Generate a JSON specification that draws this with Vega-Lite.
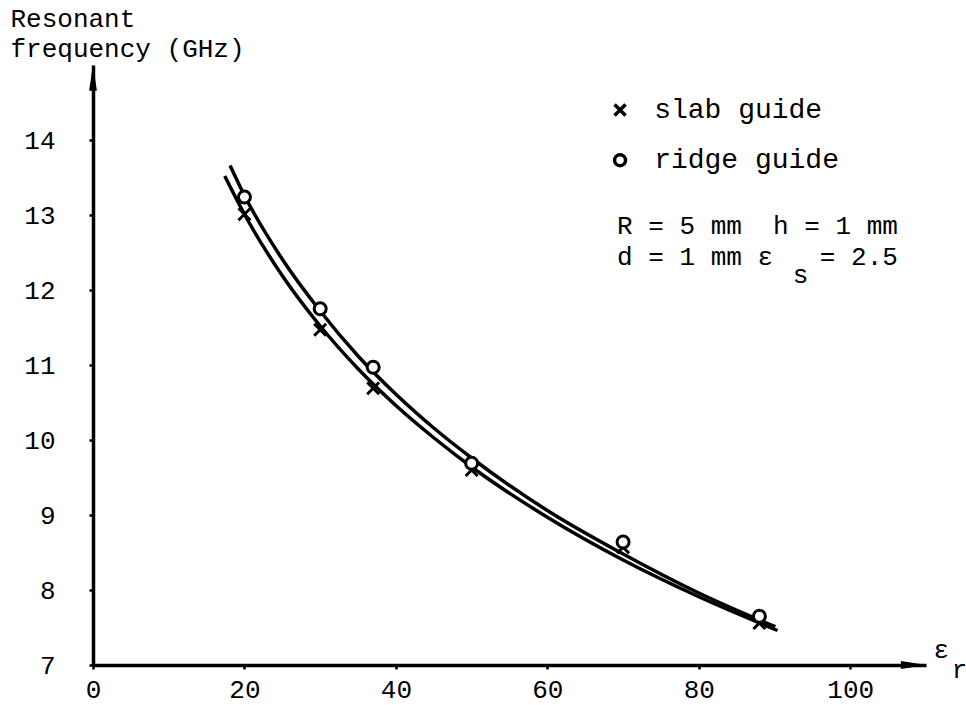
{
  "$schema": "https://vega.github.io/schema/vega-lite/v6.json",
  "width": 833,
  "height": 600,
  "autosize": {"type": "none"},
  "padding": {"left": 93, "top": 65, "right": 40, "bottom": 40},
  "background": "white",
  "config": {
    "view": {"stroke": null},
    "font": "Liberation Mono",
    "axis": {
      "grid": false,
      "domainColor": "black",
      "domainWidth": 3.5,
      "tickColor": "black",
      "tickWidth": 2.5,
      "tickSize": 4,
      "labelFont": "Liberation Mono",
      "labelFontSize": 26,
      "labelColor": "black"
    }
  },
  "datasets": {
    "curves": [
      {"curve": "ridge", "eps": 18.1, "f": 13.66},
      {"curve": "ridge", "eps": 20, "f": 13.26},
      {"curve": "ridge", "eps": 25, "f": 12.41},
      {"curve": "ridge", "eps": 30, "f": 11.72},
      {"curve": "ridge", "eps": 35, "f": 11.12},
      {"curve": "ridge", "eps": 40, "f": 10.61},
      {"curve": "ridge", "eps": 45, "f": 10.16},
      {"curve": "ridge", "eps": 50, "f": 9.76},
      {"curve": "ridge", "eps": 60, "f": 9.06},
      {"curve": "ridge", "eps": 70, "f": 8.48},
      {"curve": "ridge", "eps": 80, "f": 7.96},
      {"curve": "ridge", "eps": 90.1, "f": 7.51},
      {"curve": "slab", "eps": 17.4, "f": 13.52},
      {"curve": "slab", "eps": 20, "f": 13.01},
      {"curve": "slab", "eps": 25, "f": 12.19},
      {"curve": "slab", "eps": 30, "f": 11.52},
      {"curve": "slab", "eps": 35, "f": 10.95},
      {"curve": "slab", "eps": 40, "f": 10.46},
      {"curve": "slab", "eps": 45, "f": 10.03},
      {"curve": "slab", "eps": 50, "f": 9.64},
      {"curve": "slab", "eps": 60, "f": 8.97},
      {"curve": "slab", "eps": 70, "f": 8.40},
      {"curve": "slab", "eps": 80, "f": 7.91},
      {"curve": "slab", "eps": 90.4, "f": 7.46}
    ],
    "points": [
      {"guide": "slab guide", "eps": 20, "f": 13.01},
      {"guide": "slab guide", "eps": 30, "f": 11.47},
      {"guide": "slab guide", "eps": 37, "f": 10.69},
      {"guide": "slab guide", "eps": 50, "f": 9.60},
      {"guide": "slab guide", "eps": 70, "f": 8.57},
      {"guide": "slab guide", "eps": 88, "f": 7.56},
      {"guide": "ridge guide", "eps": 20, "f": 13.24},
      {"guide": "ridge guide", "eps": 30, "f": 11.75},
      {"guide": "ridge guide", "eps": 37, "f": 10.97},
      {"guide": "ridge guide", "eps": 50, "f": 9.69},
      {"guide": "ridge guide", "eps": 70, "f": 8.64},
      {"guide": "ridge guide", "eps": 88, "f": 7.65}
    ],
    "legendRows": [
      {"guide": "slab guide", "eps": 69.6, "labelEps": 74.1, "f": 14.4},
      {"guide": "ridge guide", "eps": 69.6, "labelEps": 74.1, "f": 13.73}
    ],
    "arrowRight": [{"eps": 108.4, "f": 7}],
    "arrowUp": [{"eps": 0, "f": 14.83}],
    "notes": [
      {"text": "R = 5 mm\u00a0\u00a0h = 1 mm", "eps": 69.2, "f": 12.85},
      {"text": "d = 1 mm ε\u00a0\u00a0\u00a0= 2.5", "eps": 69.2, "f": 12.44},
      {"text": "s", "eps": 92.4, "f": 12.2},
      {"text": "ε", "eps": 111.0, "f": 7.2},
      {"text": "r", "eps": 113.4, "f": 6.93}
    ]
  },
  "layer": [
    {
      "data": {"name": "curves"},
      "mark": {"type": "line", "color": "black", "strokeWidth": 3.5, "interpolate": "monotone"},
      "encoding": {
        "x": {"field": "eps", "type": "quantitative", "scale": {"domain": [0, 110], "nice": false},
              "axis": {"values": [0, 20, 40, 60, 80, 100], "title": null, "labelPadding": 7, "labelFlush": false, "format": "d"}},
        "y": {"field": "f", "type": "quantitative", "scale": {"domain": [7, 15], "nice": false, "zero": false},
              "axis": {"values": [7, 8, 9, 10, 11, 12, 13, 14], "labelPadding": 34, "format": "d",
                       "title": ["Resonant", "frequency (GHz)"], "titleAngle": 0, "titleAlign": "left",
                       "titleBaseline": "alphabetic", "titleX": -83, "titleY": -39,
                       "titleFont": "Liberation Mono", "titleFontSize": 26, "titleFontWeight": "normal",
                       "titleColor": "black", "titleLineHeight": 30}},
        "detail": {"field": "curve"}
      }
    },
    {
      "data": {"name": "points"},
      "mark": {"type": "point", "filled": false, "fill": "white", "stroke": "black", "strokeWidth": 3, "size": 144, "opacity": 1},
      "encoding": {
        "x": {"field": "eps", "type": "quantitative"},
        "y": {"field": "f", "type": "quantitative"},
        "shape": {
          "field": "guide", "type": "nominal",
          "scale": {"domain": ["slab guide", "ridge guide"], "range": ["M -1 -1 L 1 1 M -1 1 L 1 -1", "circle"]},
          "legend": null
        }
      }
    },
    {
      "data": {"name": "legendRows"},
      "mark": {"type": "point", "filled": false, "fill": "white", "stroke": "black", "strokeWidth": 3.5, "size": 120, "opacity": 1},
      "encoding": {
        "x": {"field": "eps", "type": "quantitative"},
        "y": {"field": "f", "type": "quantitative"},
        "shape": {"field": "guide", "type": "nominal", "legend": null}
      }
    },
    {
      "data": {"name": "legendRows"},
      "mark": {"type": "text", "font": "Liberation Mono", "fontSize": 28, "color": "black", "baseline": "middle", "align": "left"},
      "encoding": {
        "x": {"field": "labelEps", "type": "quantitative"},
        "y": {"field": "f", "type": "quantitative"},
        "text": {"field": "guide"}
      }
    },
    {
      "data": {"name": "arrowRight"},
      "mark": {"type": "point", "filled": true, "color": "black", "size": 676, "opacity": 1,
               "shape": "M -1 -0.3 L 1 0 L -1 0.3 Z"},
      "encoding": {
        "x": {"field": "eps", "type": "quantitative"},
        "y": {"field": "f", "type": "quantitative"}
      }
    },
    {
      "data": {"name": "arrowUp"},
      "mark": {"type": "point", "filled": true, "color": "black", "size": 676, "opacity": 1,
               "shape": "M -0.3 1 L 0 -1 L 0.3 1 Z"},
      "encoding": {
        "x": {"field": "eps", "type": "quantitative"},
        "y": {"field": "f", "type": "quantitative"}
      }
    },
    {
      "data": {"name": "notes"},
      "mark": {"type": "text", "font": "Liberation Mono", "fontSize": 26, "color": "black", "baseline": "middle", "align": "left"},
      "encoding": {
        "x": {"field": "eps", "type": "quantitative"},
        "y": {"field": "f", "type": "quantitative"},
        "text": {"field": "text"}
      }
    }
  ]
}
